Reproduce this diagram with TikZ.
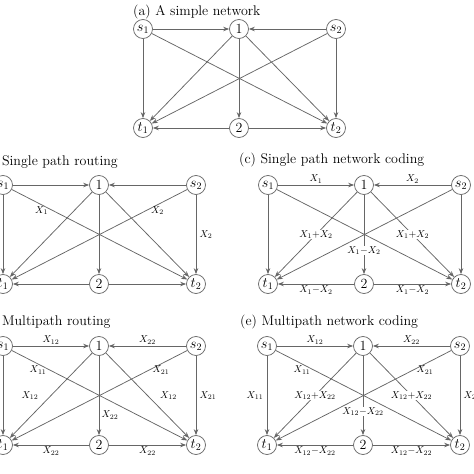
\documentclass[tikz,border=0pt]{standalone}
\usepackage{amsmath}
\usepackage{amssymb}
\usetikzlibrary{shapes, arrows, arrows.meta, calc, positioning}
\definecolor{netgray}{rgb}{0.40, 0.40, 0.40}

\tikzset{
  nd/.style={circle, draw=netgray, line width=0.75pt, inner sep=0pt, minimum size=19pt},
  edge/.style={draw=netgray, line width=0.75pt, -{Stealth[length=6pt, width=4.5pt]}},
  lbl/.style={font=\fontsize{10}{12}\selectfont, inner sep=1.5pt},
  onlbl/.style={lbl, fill=white, inner sep=0.5pt},
  ttl/.style={anchor=west, inner sep=0pt}
}

% one network: prefix, position of s1
\newcommand{\drawnet}[3]{%
  \begin{scope}[shift={(#2,#3)}, name prefix=#1-]
    \node[nd] (s1) at (0,0) {$s_1$};
    \node[nd] (n1) at (96,0) {1};
    \node[nd] (s2) at (193,0) {$s_2$};
    \node[nd] (t1) at (0,99) {$t_1$};
    \node[nd] (n2) at (96,99) {2};
    \node[nd] (t2) at (193,99) {$t_2$};
    \foreach \u/\v in {s1/n1, s2/n1, s1/t1, s1/t2, n1/t1, n1/n2, n1/t2, s2/t1, s2/t2, n2/t1, n2/t2}
      \draw[edge] (\u) -- (\v);
  \end{scope}}

\begin{document}
\begin{tikzpicture}[x=1pt, y=-1pt, font=\fontsize{14}{16}\selectfont]
    \useasboundingbox (0,0) rectangle (474,474);
    \clip (0,0) rectangle (474,474);

    % titles
    \node[ttl] (ta) at (133,12) {(a) A simple network};
    \node[ttl] (tb) at (-21,162) {(b) Single path routing};
    \node[ttl] (tc) at (239,160) {(c) Single path network coding};
    \node[ttl] (td) at (-21,322) {(d) Multipath routing};
    \node[ttl] (te) at (240,322) {(e) Multipath network coding};

    \drawnet{a}{143}{29}
    \drawnet{b}{3}{185}
    \drawnet{c}{268}{185}
    \drawnet{d}{3}{346}
    \drawnet{e}{267}{346}

    % (b)
    \path (b-s1) -- (b-t2) node[lbl, pos=.17, below] {$X_1$};
    \path (b-s2) -- (b-t1) node[lbl, pos=.17, below] {$X_2$};
    \path (b-s2) -- (b-t2) node[lbl, midway, right=2pt] {$X_2$};

    % (c)
    \path (c-s1) -- (c-n1) node[lbl, midway, above] {$X_1$};
    \path (c-s2) -- (c-n1) node[lbl, midway, above] {$X_2$};
    \path (c-n1) -- (c-t1) node[onlbl, midway] {$X_1{+}X_2$};
    \path (c-n1) -- (c-t2) node[onlbl, midway] {$X_1{+}X_2$};
    \path (c-n1) -- (c-n2) node[onlbl, pos=.7] {$X_1{-}X_2$};
    \path (c-n2) -- (c-t1) node[lbl, midway, below] {$X_1{-}X_2$};
    \path (c-n2) -- (c-t2) node[lbl, midway, below] {$X_1{-}X_2$};

    % (d)
    \path (d-s1) -- (d-n1) node[lbl, midway, above] {$X_{12}$};
    \path (d-s2) -- (d-n1) node[lbl, midway, above] {$X_{22}$};
    \path (d-s1) -- (d-t2) node[lbl, pos=.15, below] {$X_{11}$};
    \path (d-s2) -- (d-t1) node[lbl, pos=.15, below] {$X_{21}$};
    \path (d-n1) -- (d-t1) node[lbl, midway, left=11pt] {$X_{12}$};
    \path (d-n1) -- (d-t2) node[lbl, midway, right=11pt] {$X_{12}$};
    \path (d-s2) -- (d-t2) node[lbl, midway, right=2pt] {$X_{21}$};
    \path (d-n1) -- (d-n2) node[lbl, pos=.75, right=1pt] {$X_{22}$};
    \path (d-n2) -- (d-t1) node[lbl, midway, below] {$X_{22}$};
    \path (d-n2) -- (d-t2) node[lbl, midway, below] {$X_{22}$};

    % (e)
    \path (e-s1) -- (e-n1) node[lbl, midway, above] {$X_{12}$};
    \path (e-s2) -- (e-n1) node[lbl, midway, above] {$X_{22}$};
    \path (e-s1) -- (e-t2) node[lbl, pos=.15, below] {$X_{11}$};
    \path (e-s2) -- (e-t1) node[lbl, pos=.15, below] {$X_{21}$};
    \path (e-s1) -- (e-t1) node[lbl, midway, left=2pt] {$X_{11}$};
    \path (e-n1) -- (e-t1) node[onlbl, midway] {$X_{12}{+}X_{22}$};
    \path (e-n1) -- (e-t2) node[onlbl, midway] {$X_{12}{+}X_{22}$};
    \path (e-n1) -- (e-n2) node[onlbl, pos=.7] {$X_{12}{-}X_{22}$};
    \path (e-s2) -- (e-t2) node[lbl, midway, right=2pt] {$X_{21}$};
    \path (e-n2) -- (e-t1) node[lbl, midway, below] {$X_{12}{-}X_{22}$};
    \path (e-n2) -- (e-t2) node[lbl, midway, below] {$X_{12}{-}X_{22}$};
\end{tikzpicture}
\end{document}
